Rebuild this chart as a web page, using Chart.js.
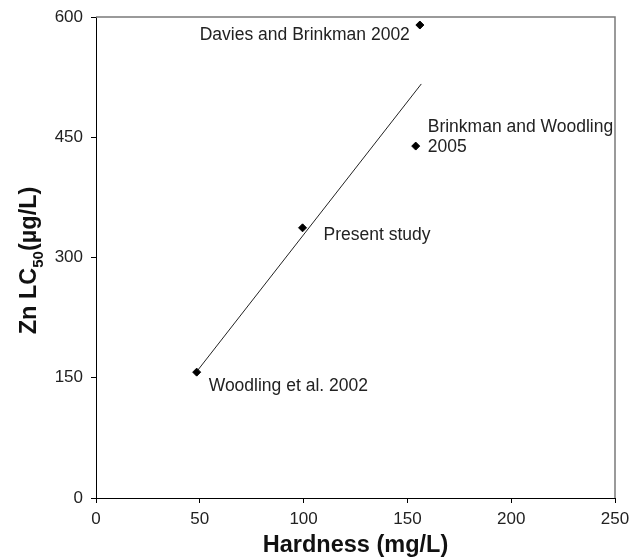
<!DOCTYPE html>
<html>
<head>
<meta charset="utf-8">
<script src="https://cdn.jsdelivr.net/npm/chart.js@4"></script>
<style>
  html, body { margin: 0; padding: 0; background: #ffffff; }
  #wrap { width: 632px; height: 558px; position: relative; }
</style>
</head>
<body>
<div id="wrap"><canvas id="c" width="632" height="558"></canvas></div>
<script>
// ---- data ----
const hardness = [48.5, 99.5, 154, 156];            // mg/L
const lc50 = [157, 337, 439, 590];                  // µg/L
const studyLabels = ['Woodling et al. 2002', 'Present study', 'Brinkman and Woodling\n2005', 'Davies and Brinkman 2002'];
const fitHardness = [48.3, 156.7];                  // regression line end points
const fitLC50 = [157, 516.5];
const xTitle = 'Hardness (mg/L)';
const yTitleParts = ['Zn LC', '50', '(µg/L)'];

// ---- label placement (pixel offsets from the point) ----
const labelPlacement = [
  { dx: 12, dy: 14.5, align: 'left' },
  { dx: 21, dy: 7, align: 'left' },
  { dx: 12, dy: -19, align: 'left' },
  { dx: -10, dy: 10.5, align: 'right' }
];

const FONT = "'Liberation Sans', Arial, Helvetica, sans-serif";

const points = hardness.map((h, i) => ({ x: h, y: lc50[i] }));
const fitLine = fitHardness.map((h, i) => ({ x: h, y: fitLC50[i] }));

const decorPlugin = {
  id: 'decor',
  afterDraw(chart) {
    const ctx = chart.ctx;
    const a = chart.chartArea;
    const xs = chart.scales.x, ys = chart.scales.y;
    ctx.save();
    // top and right frame
    ctx.strokeStyle = '#7a7a7a';
    ctx.lineWidth = 1.5;
    ctx.beginPath();
    ctx.moveTo(a.left, a.top);
    ctx.lineTo(a.right, a.top);
    ctx.lineTo(a.right, a.bottom);
    ctx.stroke();

    // point labels
    ctx.fillStyle = '#222';
    ctx.font = '17.5px ' + FONT;
    ctx.textBaseline = 'middle';
    studyLabels.forEach((txt, i) => {
      const px = xs.getPixelForValue(hardness[i]);
      const py = ys.getPixelForValue(lc50[i]);
      const p = labelPlacement[i];
      ctx.textAlign = p.align;
      txt.split('\n').forEach((line, k) => {
        ctx.fillText(line, px + p.dx, py + p.dy + k * 20);
      });
    });

    // x title
    ctx.font = 'bold 23.5px ' + FONT;
    ctx.textAlign = 'center';
    ctx.textBaseline = 'alphabetic';
    ctx.fillStyle = '#111';
    ctx.fillText(xTitle, (a.left + a.right) / 2, 552);

    // y title with subscript
    ctx.save();
    ctx.translate(36, (a.top + a.bottom) / 2 + 3);
    ctx.rotate(-Math.PI / 2);
    const bigFont = 'bold 23.5px ' + FONT;
    const smallFont = 'bold 15px ' + FONT;
    ctx.font = bigFont; const w0 = ctx.measureText(yTitleParts[0]).width;
    ctx.font = smallFont; const w1 = ctx.measureText(yTitleParts[1]).width;
    ctx.font = bigFont; const w2 = ctx.measureText(yTitleParts[2]).width;
    let x0 = -(w0 + w1 + w2) / 2;
    ctx.textAlign = 'left';
    ctx.font = bigFont; ctx.fillText(yTitleParts[0], x0, 0); x0 += w0;
    ctx.font = smallFont; ctx.fillText(yTitleParts[1], x0, 7); x0 += w1;
    ctx.font = bigFont; ctx.fillText(yTitleParts[2], x0, 0);
    ctx.restore();
    ctx.restore();
  }
};

new Chart(document.getElementById('c'), {
  type: 'scatter',
  data: {
    datasets: [
      {
        label: 'Fit',
        data: fitLine,
        showLine: true,
        borderColor: '#222',
        borderWidth: 1,
        pointRadius: 0,
        pointHoverRadius: 0,
        order: 2
      },
      {
        label: 'Studies',
        data: points,
        pointStyle: 'rectRot',
        pointRadius: 4,
        pointBorderWidth: 1,
        backgroundColor: '#000',
        borderColor: '#000',
        order: 1
      }
    ]
  },
  options: {
    responsive: false,
    animation: false,
    devicePixelRatio: 1,
    layout: { padding: { top: 17, right: 17, left: 0, bottom: 0 } },
    plugins: { legend: { display: false }, tooltip: { enabled: false } },
    scales: {
      x: {
        type: 'linear',
        min: 0, max: 250,
        ticks: { stepSize: 50, color: '#222', font: { family: FONT, size: 17 }, padding: 6, maxRotation: 0 },
        grid: { drawOnChartArea: false, drawTicks: true, tickLength: 5, color: '#000', lineWidth: 1 },
        border: { display: true, color: '#000', width: 1 },
        afterFit(scale) { scale.height = 60; scale.paddingLeft = 0; scale.paddingRight = 0; }
      },
      y: {
        type: 'linear',
        min: 0, max: 600,
        ticks: { stepSize: 150, color: '#222', font: { family: FONT, size: 17 }, padding: 8 },
        grid: { drawOnChartArea: false, drawTicks: true, tickLength: 5, color: '#000', lineWidth: 1 },
        border: { display: true, color: '#000', width: 1 },
        afterFit(scale) { scale.width = 96; scale.paddingTop = 0; scale.paddingBottom = 0; }
      }
    }
  },
  plugins: [decorPlugin]
});
</script>
</body>
</html>
